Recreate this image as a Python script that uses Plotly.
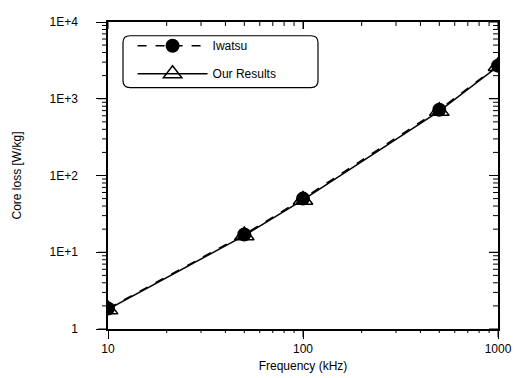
import plotly.graph_objects as go

freq = [10, 50, 100, 500, 1000]
iwatsu = [1.85, 17.0, 50.0, 720.0, 2700.0]
ours = [1.8, 16.5, 48.0, 690.0, 2650.0]

y_tickvals = [1, 10, 100, 1000, 10000]
y_ticktext = ["1", "1E+1", "1E+2", "1E+3", "1E+4"]
x_tickvals = [10, 100, 1000]
x_ticktext = ["10", "100", "1000"]
x_minor = [20, 30, 40, 50, 60, 70, 80, 90, 200, 300, 400, 500, 600, 700, 800, 900]
y_minor = [m * 10 ** e for e in range(4) for m in range(2, 10)]

font = "Liberation Sans, Arial, sans-serif"

fig = go.Figure()
fig.add_trace(go.Scatter(
    x=freq, y=iwatsu, name="Iwatsu", mode="lines+markers", legendgroup="a",
    line=dict(color="black", width=1.5, dash="dash"),
    marker=dict(symbol="circle", size=14, color="black"),
))
fig.add_trace(go.Scatter(
    x=freq, y=ours, name="Our Results", mode="lines+markers", legendgroup="b",
    line=dict(color="black", width=1.5),
    marker=dict(symbol="triangle-up-open", size=17, color="black", line=dict(width=1.5)),
))
fig.add_trace(go.Scatter(x=freq, y=ours, xaxis="x2", yaxis="y2", mode="markers",
                         marker=dict(opacity=0), showlegend=False, hoverinfo="skip"))

common = dict(type="log", showgrid=False, zeroline=False, showline=True,
              linecolor="black", linewidth=1.5, tickcolor="black", tickwidth=1)
xr = [1, 3]
yr = [0, 4]

fig.update_layout(
    width=515, height=370,
    margin=dict(l=100, r=25, t=7, b=42),
    paper_bgcolor="white", plot_bgcolor="white",
    font=dict(family=font, size=11, color="black"),
    showlegend=True,
    legend=dict(x=0.063, y=0.97, xanchor="left", yanchor="top",
                bgcolor="rgba(0,0,0,0)", borderwidth=0,
                font=dict(size=12), itemwidth=70, tracegroupgap=9),
    xaxis=dict(**common, range=xr, tickvals=x_tickvals, ticktext=x_ticktext,
               ticks="outside", ticklen=8,
               title=dict(text="Frequency (kHz)", font=dict(size=12), standoff=6),
               tickfont=dict(size=12)),
    yaxis=dict(**common, range=yr, tickvals=y_tickvals, ticktext=y_ticktext,
               ticks="outside", ticklen=10, ticklabelstandoff=16,
               title=dict(text="Core loss [W/kg]", font=dict(size=12), standoff=25),
               tickfont=dict(size=12)),
    xaxis2=dict(**common, range=xr, overlaying="x", side="top",
                showticklabels=False, tickvals=x_tickvals, ticks="inside", ticklen=7),
    yaxis2=dict(**common, range=yr, overlaying="y", side="right",
                showticklabels=False, tickvals=y_tickvals, ticks="inside", ticklen=9),
)

# tick marks on all four sides, placed at the tick values through the axes
tick_line = dict(color="black", width=1)
for vals, out_len, in_len in [(x_tickvals, 8, 7), (x_minor, 4, 4)]:
    for v in vals:
        fig.add_shape(type="line", xref="x", yref="paper", ysizemode="pixel", yanchor=0,
                      x0=v, x1=v, y0=0, y1=-out_len, line=tick_line, layer="above")
        fig.add_shape(type="line", xref="x", yref="paper", ysizemode="pixel", yanchor=1,
                      x0=v, x1=v, y0=0, y1=-in_len, line=tick_line, layer="above")
for vals, out_len, in_len in [(y_tickvals, 10, 9), (y_minor, 6, 5)]:
    for v in vals:
        fig.add_shape(type="line", yref="y", xref="paper", xsizemode="pixel", xanchor=0,
                      y0=v, y1=v, x0=0, x1=-out_len, line=tick_line, layer="above")
        fig.add_shape(type="line", yref="y", xref="paper", xsizemode="pixel", xanchor=1,
                      y0=v, y1=v, x0=0, x1=-in_len, line=tick_line, layer="above")

# rounded legend frame
x0, x1 = (123 - 108) / 390, (318 - 108) / 390
y1, y0 = (328 - 29) / 313, (328 - 82) / 313
rx, ry = 7 / 390, 7 / 313
path = (f"M {x0+rx},{y1} L {x1-rx},{y1} Q {x1},{y1} {x1},{y1-ry} L {x1},{y0+ry} "
        f"Q {x1},{y0} {x1-rx},{y0} L {x0+rx},{y0} Q {x0},{y0} {x0},{y0+ry} "
        f"L {x0},{y1-ry} Q {x0},{y1} {x0+rx},{y1} Z")
fig.add_shape(type="path", path=path, xref="paper", yref="paper",
              line=dict(color="black", width=1.2))

fig.write_html("out.html")
